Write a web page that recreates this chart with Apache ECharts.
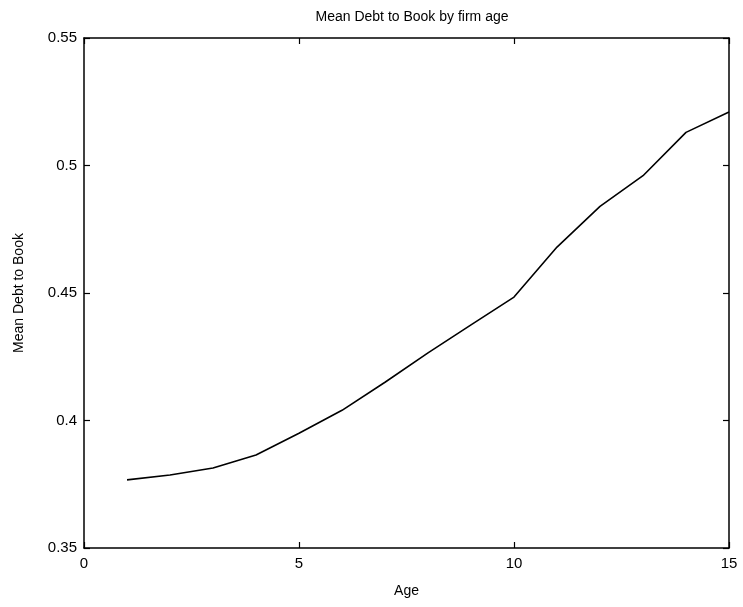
<!DOCTYPE html>
<html>
<head>
<meta charset="utf-8">
<script src="https://cdn.jsdelivr.net/npm/echarts@6/dist/echarts.min.js"></script>
<style>
  html, body { margin: 0; padding: 0; background: #fff; }
  #chart { width: 743px; height: 607px; }
</style>
</head>
<body>
<div id="chart"></div>
<script>
// Firm age (years) and the mean debt-to-book ratio at each age
const ages = [1, 2, 3, 4, 5, 6, 7, 8, 9, 10, 11, 12, 13, 14, 15];
const meanDebtToBook = [0.3767, 0.3786, 0.3814, 0.3865, 0.395, 0.404, 0.415, 0.4265, 0.4375, 0.4484, 0.468, 0.484, 0.496, 0.513, 0.521];
const xTicks = [0, 5, 10, 15];
const yTicks = [0.35, 0.4, 0.45, 0.5, 0.55];

const font = 'Liberation Sans, Arial, sans-serif';
const chart = echarts.init(document.getElementById('chart'), null, { renderer: 'canvas' });

const frameAxisX = (pos, labels) => ({
  type: 'value', position: pos, min: 0, max: 15, interval: 5,
  axisLine: { show: true, onZero: false, lineStyle: { color: '#000', width: 1.5 } },
  axisTick: { show: true, inside: true, length: 6, lineStyle: { color: '#000', width: 1.2 } },
  axisLabel: { show: labels, color: '#000', fontFamily: font, fontSize: 15, margin: 8,
    formatter: v => xTicks.includes(v) ? String(v) : '' },
  splitLine: { show: false }
});
const frameAxisY = (pos, labels) => ({
  type: 'value', position: pos, min: 0.35, max: 0.55, interval: 0.05,
  axisLine: { show: true, onZero: false, lineStyle: { color: '#000', width: 1.5 } },
  axisTick: { show: true, inside: true, length: 6, lineStyle: { color: '#000', width: 1.2 } },
  axisLabel: { show: labels, color: '#000', fontFamily: font, fontSize: 15, margin: 7,
    formatter: v => { const t = yTicks.find(y => Math.abs(y - v) < 1e-9); return t === undefined ? '' : String(t); } },
  splitLine: { show: false }
});

const xMain = frameAxisX('bottom', true);
xMain.name = 'Age';
xMain.nameLocation = 'middle';
xMain.nameGap = 36;
xMain.nameTextStyle = { color: '#000', fontFamily: font, fontSize: 14 };

const yMain = frameAxisY('left', true);
yMain.name = 'Mean Debt to Book';
yMain.nameLocation = 'middle';
yMain.nameGap = 58;
yMain.nameTextStyle = { color: '#000', fontFamily: font, fontSize: 14 };

chart.setOption({
  animation: false,
  backgroundColor: '#fff',
  title: {
    text: 'Mean Debt to Book by firm age',
    left: 407, top: 5, textAlign: 'center',
    textStyle: { color: '#000', fontFamily: font, fontSize: 14, fontWeight: 'normal' }
  },
  grid: { left: 84, right: 14, top: 38, bottom: 59, containLabel: false },
  xAxis: [xMain, frameAxisX('top', false)],
  yAxis: [yMain, frameAxisY('right', false)],
  series: [{
    type: 'line',
    xAxisIndex: 0, yAxisIndex: 0,
    data: ages.map((a, i) => [a, meanDebtToBook[i]]),
    showSymbol: false,
    lineStyle: { color: '#000', width: 1.6 },
    smooth: false
  }]
});
</script>
</body>
</html>
